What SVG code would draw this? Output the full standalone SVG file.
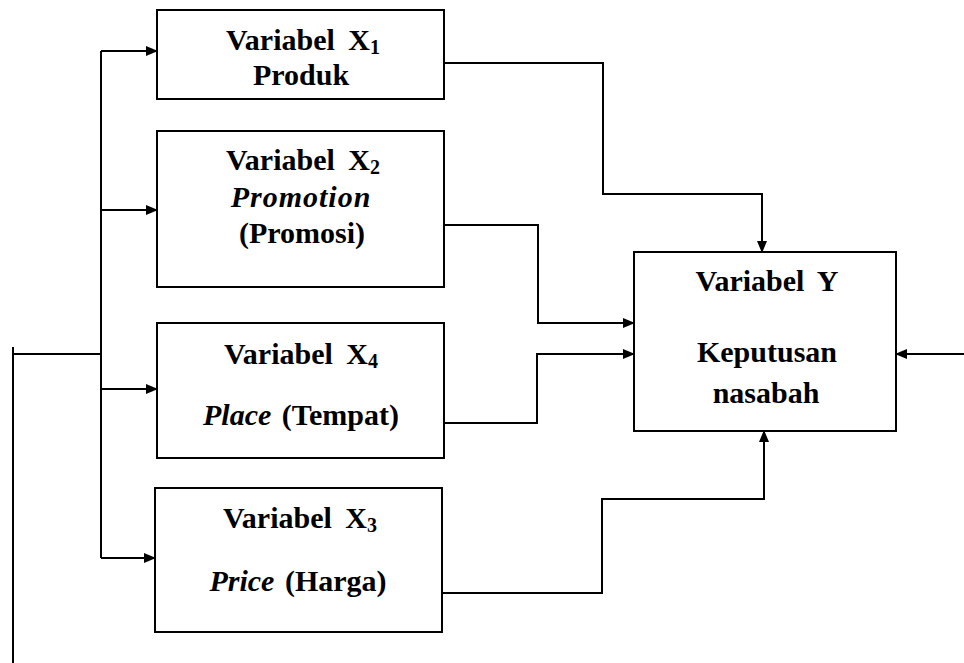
<svg xmlns="http://www.w3.org/2000/svg" width="964" height="663" viewBox="0 0 964 663">
<style>
.box{fill:#fff;stroke:#000;stroke-width:2}
.ln{fill:none;stroke:#000;stroke-width:2}
.t{font-family:"Liberation Serif","Times New Roman",serif;font-size:30px;font-weight:bold;text-anchor:middle;fill:#000}
.i{font-style:italic}
.s{font-size:20px}
</style>
<defs>
<marker id="ah" markerUnits="userSpaceOnUse" markerWidth="12" markerHeight="10" refX="11" refY="5" orient="auto">
<path d="M0,0 L12,5 L0,10 z" fill="#000"/>
</marker>
</defs>
<rect width="964" height="663" fill="#fff"/>
<g id="connectors">
<path class="ln" d="M13,347 V663"/>
<path class="ln" d="M13,354 H101"/>
<path class="ln" d="M101,51 V558"/>
<path class="ln" d="M101,51 H157" marker-end="url(#ah)"/>
<path class="ln" d="M101,210 H157" marker-end="url(#ah)"/>
<path class="ln" d="M101,389 H157" marker-end="url(#ah)"/>
<path class="ln" d="M101,558 H155" marker-end="url(#ah)"/>
<path class="ln" d="M444,63 H603 V194 H762 V252" marker-end="url(#ah)"/>
<path class="ln" d="M444,225 H538 V323 H634" marker-end="url(#ah)"/>
<path class="ln" d="M444,423 H537 V354 H634" marker-end="url(#ah)"/>
<path class="ln" d="M442,593 H602 V499 H764 V431" marker-end="url(#ah)"/>
<path class="ln" d="M964,354 H896" marker-end="url(#ah)"/>
</g>
<g id="x1">
<rect class="box" x="157" y="10" width="287" height="89"/>
<text class="t" x="303" y="50">Variabel <tspan dx="6">X</tspan><tspan class="s" dy="4">1</tspan></text>
<text class="t" x="301" y="85">Produk</text>
</g>
<g id="x2">
<rect class="box" x="157" y="131" width="287" height="156"/>
<text class="t" x="303" y="170">Variabel <tspan dx="6">X</tspan><tspan class="s" dy="4">2</tspan></text>
<text class="t i" x="301" y="207" letter-spacing="1">Promotion</text>
<text class="t" x="302" y="243">(Promosi)</text>
</g>
<g id="x4">
<rect class="box" x="157" y="323" width="287" height="135"/>
<text class="t" x="301" y="364">Variabel <tspan dx="6">X</tspan><tspan class="s" dy="4">4</tspan></text>
<text class="t" x="301" y="425"><tspan class="i">Place</tspan> <tspan dx="3">(Tempat)</tspan></text>
</g>
<g id="x3">
<rect class="box" x="155" y="488" width="287" height="144"/>
<text class="t" x="300" y="528">Variabel <tspan dx="6">X</tspan><tspan class="s" dy="4">3</tspan></text>
<text class="t" x="298" y="591"><tspan class="i">Price</tspan> <tspan dx="3">(Harga)</tspan></text>
</g>
<g id="y">
<rect class="box" x="634" y="252" width="262" height="179"/>
<text class="t" x="767" y="291">Variabel <tspan dx="6">Y</tspan></text>
<text class="t" x="767" y="362">Keputusan</text>
<text class="t" x="766" y="403">nasabah</text>
</g>
</svg>
